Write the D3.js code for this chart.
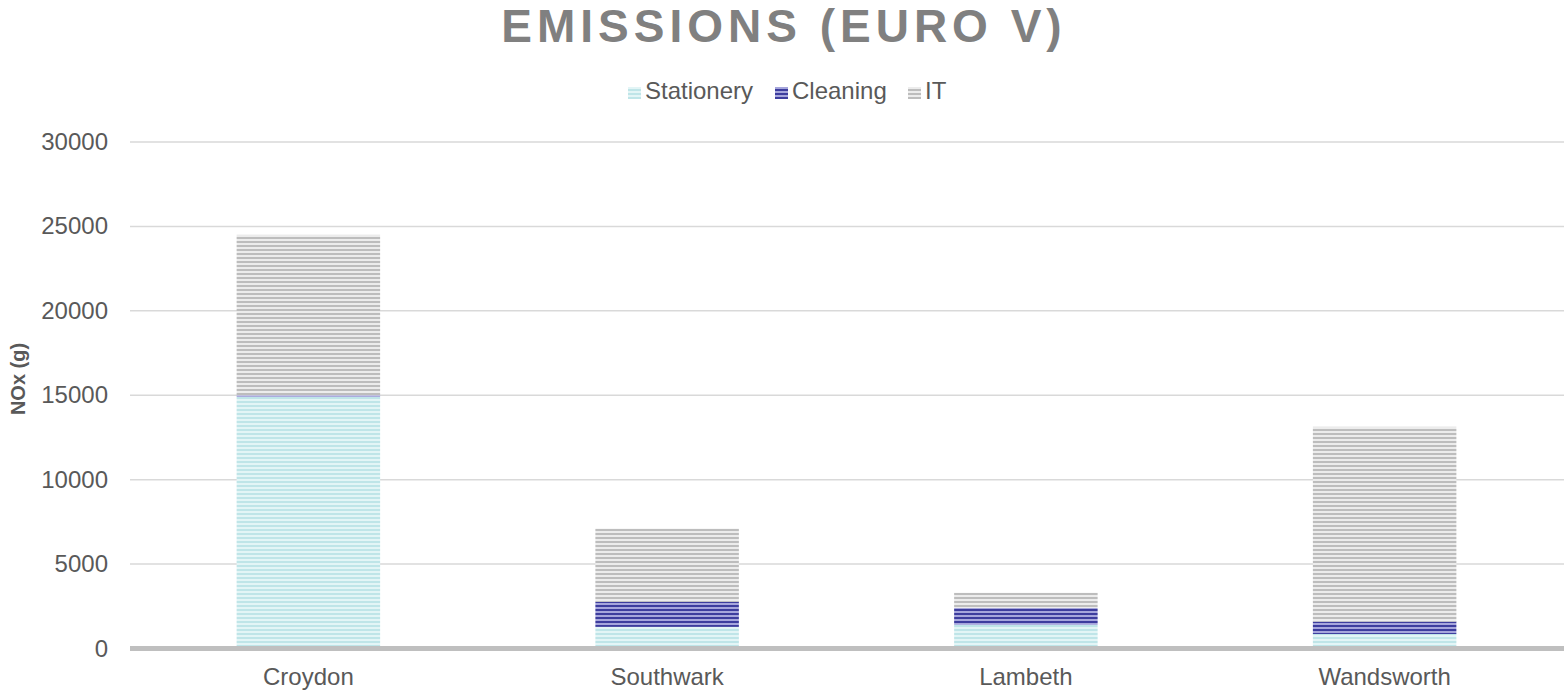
<!DOCTYPE html>
<html>
<head>
<meta charset="utf-8">
<script src="https://cdn.jsdelivr.net/npm/d3@7"></script>
<style>
  body { margin: 0; background: #fff; }
  text { font-family: "Liberation Sans", Arial, sans-serif; }
</style>
</head>
<body>
<div id="chart"></div>
<script>
var categories = ['Croydon', 'Southwark', 'Lambeth', 'Wandsworth'];
var series_names = ['Stationery', 'Cleaning', 'IT'];
var stationery = [14900, 1280, 1400, 860];
var cleaning = [100, 1480, 1000, 730];
var it_values = [9500, 4340, 900, 11540];
var y_ticks = [0, 5000, 10000, 15000, 20000, 25000, 30000];

var width = 1564, height = 694;
var margin = { left: 129, right: 0, top: 142, bottom: 45 };

var svg = d3.select('#chart').append('svg').attr('width', width).attr('height', height);

// stripe patterns: [light, dark]
var stripes = [['#e3f5f6', '#bfe5e8'], ['#a6a6dc', '#3d3d9e'], ['#ececec', '#bdbdbd']];
var defs = svg.append('defs');
stripes.forEach((c, i) => {
    var p = defs.append('pattern').attr('id', 'pat' + i).attr('patternUnits', 'userSpaceOnUse')
        .attr('width', 8).attr('height', 4);
    p.append('rect').attr('width', 8).attr('height', 4).attr('fill', c[0]);
    p.append('rect').attr('y', 1).attr('width', 8).attr('height', 2).attr('fill', c[1]);
});

var data = categories.map((d, i) => ({ cat: d, Stationery: stationery[i], Cleaning: cleaning[i], IT: it_values[i] }));
var stacked = d3.stack().keys(series_names)(data);

var x_scale = d3.scaleBand().domain(categories).range([margin.left, width - margin.right]).paddingInner(0.6).paddingOuter(0.3);
var y_scale = d3.scaleLinear().domain([0, 30000]).range([height - margin.bottom - 0.5, margin.top]);

// title
svg.append('text').text('EMISSIONS (EURO V)').attr('x', 784).attr('y', 42)
    .attr('text-anchor', 'middle').attr('font-size', 46).attr('font-weight', 'bold')
    .attr('letter-spacing', 5).attr('fill', '#808080');

// legend
var legend_x = [628, 775, 908];
series_names.forEach((name, i) => {
    svg.append('rect').attr('x', legend_x[i]).attr('y', 87).attr('width', 13).attr('height', 12)
        .attr('fill', 'url(#pat' + i + ')');
    svg.append('text').text(name).attr('x', legend_x[i] + 17).attr('y', 99)
        .attr('font-size', 24).attr('fill', '#595959');
});

// gridlines and y labels
var grid = svg.append('g');
y_ticks.forEach(t => {
    if (t > 0) {
        grid.append('line').attr('x1', 130).attr('x2', width).attr('y1', y_scale(t)).attr('y2', y_scale(t))
            .attr('stroke', '#d9d9d9').attr('stroke-width', 1.5);
    }
    svg.append('text').text(t).attr('x', 108).attr('y', y_scale(t) + 8)
        .attr('text-anchor', 'end').attr('font-size', 24).attr('fill', '#595959');
});

// bars
stacked.forEach((layer, i) => {
    svg.append('g').selectAll('rect').data(layer).enter().append('rect')
        .attr('x', d => x_scale(d.data.cat))
        .attr('width', x_scale.bandwidth())
        .attr('y', d => y_scale(d[1]))
        .attr('height', d => y_scale(d[0]) - y_scale(d[1]))
        .attr('fill', 'url(#pat' + i + ')');
});

// x axis line
svg.append('line').attr('x1', 130).attr('x2', width).attr('y1', y_scale(0)).attr('y2', y_scale(0))
    .attr('stroke', '#bfbfbf').attr('stroke-width', 5);

categories.forEach(c => {
    svg.append('text').text(c).attr('x', x_scale(c) + x_scale.bandwidth() / 2).attr('y', 685)
        .attr('text-anchor', 'middle').attr('font-size', 24).attr('fill', '#595959');
});

// y axis title
svg.append('text').text('NOx (g)').attr('transform', 'translate(25,379) rotate(-90)')
    .attr('text-anchor', 'middle').attr('font-size', 20).attr('font-weight', 'bold').attr('fill', '#595959');
</script>
</body>
</html>
